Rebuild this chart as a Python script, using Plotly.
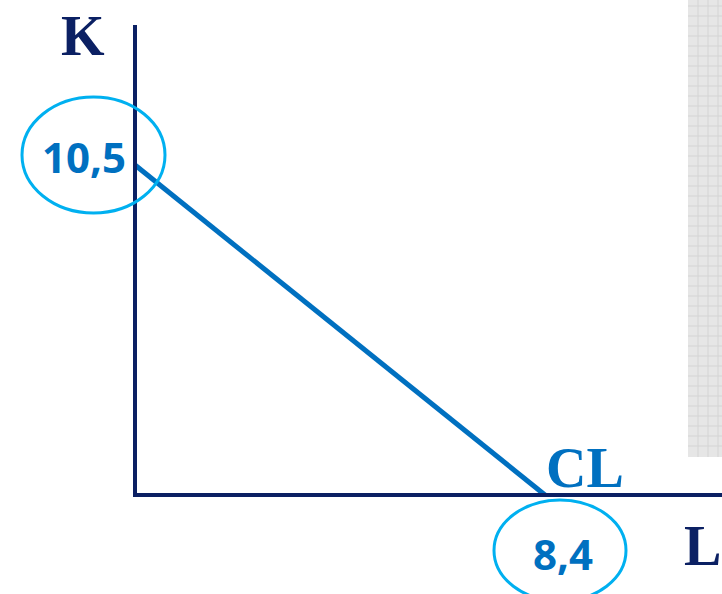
import plotly.graph_objects as go

# Data
L_vals = [0, 8.4]
K_vals = [10.5, 0]
intercept_labels = ["10,5", "8,4"]
axis_labels = ["K", "L"]
curve_label = "CL"

W, H = 722, 594
# pixel mapping
X0PX, Y0PX = 135, 495
SX = 410 / 8.4
SY = 330 / 10.5
def dx(px): return (px - X0PX) / SX
def dy(py): return (Y0PX - py) / SY

NAVY = "#0b2063"
BLUE = "#0070C0"
CYAN = "#00B0F0"

fig = go.Figure()
fig.add_trace(go.Scatter(x=L_vals, y=K_vals, mode="lines",
                         line=dict(color=BLUE, width=5), hoverinfo="skip"))

shapes = []
# grey textured panel
shapes.append(dict(type="rect", xref="x", yref="y", x0=dx(688), x1=dx(730), y0=dy(457), y1=dy(-5),
                   fillcolor="#e6e6e6", line=dict(width=0), layer="below"))
for i in range(0, 46):
    yy = 6 + i * 10
    if yy > 455: break
    shapes.append(dict(type="line", xref="x", yref="y", x0=dx(688), x1=dx(722), y0=dy(yy), y1=dy(yy),
                       line=dict(color="#d4d4d4", width=1), layer="below"))
for xx in [698, 708, 718]:
    shapes.append(dict(type="line", xref="x", yref="y", x0=dx(xx), x1=dx(xx), y0=dy(457), y1=dy(0),
                       line=dict(color="#d4d4d4", width=1), layer="below"))
# axes
shapes.append(dict(type="line", xref="x", yref="y", x0=0, x1=0, y0=0, y1=dy(25),
                   line=dict(color=NAVY, width=4)))
shapes.append(dict(type="line", xref="x", yref="y", x0=dx(133), x1=dx(725), y0=0, y1=0,
                   line=dict(color=NAVY, width=4)))
# ellipses
shapes.append(dict(type="circle", xref="x", yref="y", x0=dx(22), x1=dx(165), y0=dy(213), y1=dy(97),
                   line=dict(color=CYAN, width=3)))
shapes.append(dict(type="circle", xref="x", yref="y", x0=dx(494), x1=dx(626), y0=dy(601), y1=dy(500),
                   line=dict(color=CYAN, width=3)))

serif = "Liberation Serif, Times New Roman, serif"
sans = "Open Sans, Lato, sans-serif"
ann = [
    dict(x=dx(83), y=dy(36), text="<b>%s</b>" % axis_labels[0], font=dict(family=serif, size=56, color=NAVY)),
    dict(x=dx(702), y=dy(546), text="<b>%s</b>" % axis_labels[1], font=dict(family=serif, size=56, color=NAVY)),
    dict(x=dx(585), y=dy(468), text="<b>%s</b>" % curve_label, font=dict(family=serif, size=56, color=BLUE)),
    dict(x=dx(84), y=dy(156), text="<b>%s</b>" % intercept_labels[0], font=dict(family=sans, size=42, color=BLUE)),
    dict(x=dx(563), y=dy(553), text="<b>%s</b>" % intercept_labels[1], font=dict(family=sans, size=42, color=BLUE)),
]
for a in ann:
    a.update(xref="x", yref="y", showarrow=False, xanchor="center", yanchor="middle")

fig.update_layout(
    width=W, height=H, margin=dict(l=0, r=0, t=0, b=0),
    paper_bgcolor="white", plot_bgcolor="white", showlegend=False,
    xaxis=dict(range=[dx(0), dx(W)], visible=False, fixedrange=True),
    yaxis=dict(range=[dy(H), dy(0)], visible=False, fixedrange=True),
    shapes=shapes, annotations=ann,
)
fig.write_html("out.html", config={"displayModeBar": False},
               post_script="document.body.style.margin='0';document.body.style.overflow='hidden';")
